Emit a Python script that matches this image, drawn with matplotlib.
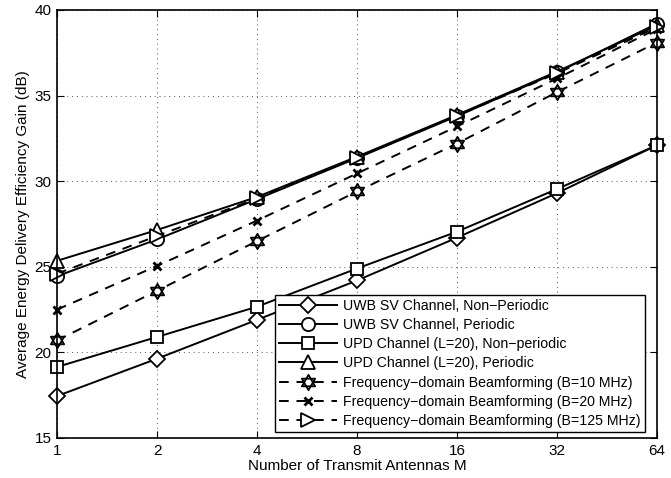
import numpy as np
import matplotlib
matplotlib.use("Agg")
import matplotlib.pyplot as plt
from matplotlib.path import Path

plt.rcParams['font.family'] = ['Liberation Sans', 'DejaVu Sans']

# data
antennas = [1, 2, 4, 8, 16, 32, 64]
uwb_nonper = [17.45, 19.63, 21.9, 24.2, 26.7, 29.3, 32.1]
uwb_per = [24.45, 26.6, 28.95, 31.35, 33.8, 36.35, 39.2]
upd_nonper = [19.15, 20.9, 22.67, 24.9, 27.05, 29.54, 32.1]
upd_per = [25.35, 27.15, 29.08, 31.43, 33.87, 36.4, 39.1]
fdb_10 = [20.7, 23.6, 26.5, 29.4, 32.2, 35.2, 38.1]
fdb_20 = [22.5, 25.05, 27.7, 30.45, 33.2, 36.0, 38.9]
fdb_125 = [24.6, 26.8, 29.0, 31.38, 33.82, 36.3, 39.0]

labels = ['UWB SV Channel, Non\u2212Periodic',
          'UWB SV Channel, Periodic',
          'UPD Channel (L=20), Non\u2212periodic',
          'UPD Channel (L=20), Periodic',
          'Frequency\u2212domain Beamforming (B=10 MHz)',
          'Frequency\u2212domain Beamforming (B=20 MHz)',
          'Frequency\u2212domain Beamforming (B=125 MHz)']
x_ticks = [1, 2, 4, 8, 16, 32, 64]
y_ticks = [15, 20, 25, 30, 35, 40]

# six pointed star (two triangles) like MATLAB 'hexagram'
ang_up = np.deg2rad([90, 210, 330])
ang_dn = np.deg2rad([270, 30, 150])
verts = []
codes = []
for ang in (ang_up, ang_dn):
    pts = list(zip(np.cos(ang), np.sin(ang)))
    verts += pts + [pts[0]]
    codes += [Path.MOVETO, Path.LINETO, Path.LINETO, Path.CLOSEPOLY]
hexagram = Path(verts, codes)

fig = plt.figure(figsize=(6.71, 4.78), dpi=100)
ax = fig.add_axes([0.085, 0.0837, 0.894, 0.8954])

common = dict(color='black', lw=1.4, mfc='white', mec='black', mew=1.3, clip_on=False)
ax.plot(antennas, uwb_nonper, '-', marker='D', ms=8.5, label=labels[0], **common)
ax.plot(antennas, uwb_per, '-', marker='o', ms=9.5, label=labels[1], **common)
ax.plot(antennas, upd_nonper, '-', marker='s', ms=9, label=labels[2], **common)
ax.plot(antennas, upd_per, '-', marker='^', ms=10, label=labels[3], **common)
ax.plot(antennas, fdb_10, '--', marker=hexagram, ms=11, label=labels[4], dashes=(5, 4), **common)
ax.plot(antennas, fdb_20, '--', marker='x', ms=5.5, label=labels[5], dashes=(5, 4),
        color='black', lw=1.4, mec='black', mew=2.0, clip_on=False)
ax.plot(antennas, fdb_125, '--', marker='>', ms=10, label=labels[6], dashes=(5, 4), **common)

ax.set_xscale('log', base=2)
ax.set_xlim(1, 64)
ax.set_ylim(15, 40)
ax.set_xticks(x_ticks)
ax.set_xticklabels([str(v) for v in x_ticks])
ax.minorticks_off()
ax.set_yticks(y_ticks)
ax.tick_params(direction='in', top=True, right=True, labelsize=11, length=5, width=0.8, pad=4)
ax.grid(True, linestyle=(0, (1, 4)), color='#555555', lw=0.7)
for s in ax.spines.values():
    s.set_linewidth(1.2)

ax.set_xlabel('Number of Transmit Antennas M', fontsize=11, labelpad=1)
ax.set_ylabel('Average Energy Delivery Efficiency Gain (dB)', fontsize=11, labelpad=3)

leg = ax.legend(loc='lower right', bbox_to_anchor=(0.98, 0.014), fontsize=10.2,
                handlelength=4.1, handletextpad=0.4, labelspacing=0.36,
                borderpad=0.3, fancybox=False, framealpha=1, edgecolor='black',
                borderaxespad=0)
leg.get_frame().set_linewidth(1.0)

fig.savefig('out.png', dpi=100)
